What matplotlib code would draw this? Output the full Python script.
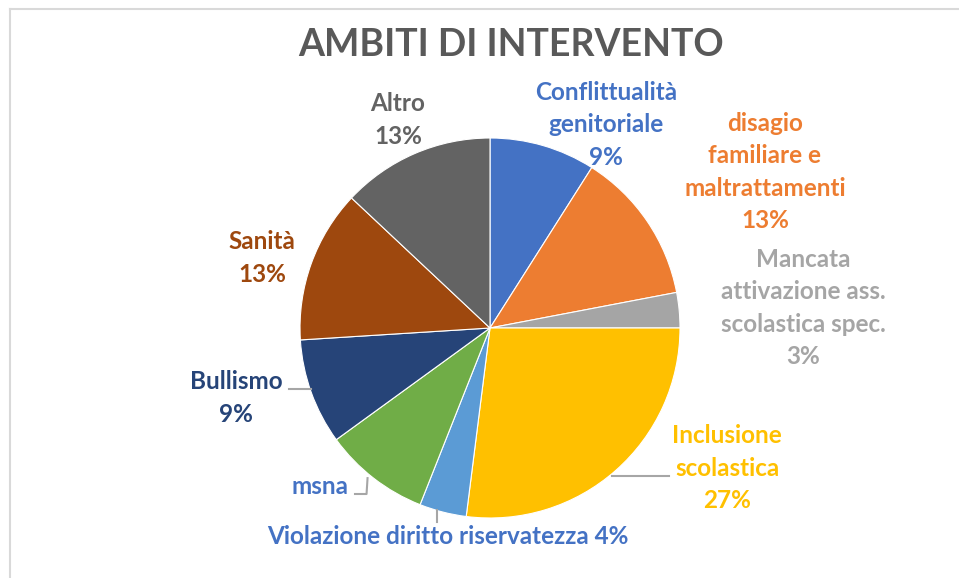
import matplotlib.pyplot as plt
import numpy as np

# data
categories = ["Conflittualità\ngenitoriale", "disagio\nfamiliare e\nmaltrattamenti",
              "Mancata\nattivazione ass.\nscolastica spec.", "Inclusione\nscolastica",
              "Violazione diritto riservatezza", "msna", "Bullismo", "Sanità", "Altro"]
values = [9, 13, 3, 27, 4, 9, 9, 13, 13]
colors = ["#4472C4", "#ED7D31", "#A5A5A5", "#FFC000", "#5B9BD5",
          "#70AD47", "#264478", "#9E480E", "#636363"]
label_colors = ["#4472C4", "#ED7D31", "#A5A5A5", "#FFC000", "#4472C4",
                "#4472C4", "#264478", "#9E480E", "#636363"]
# label centres in pixels (x, y from top)
label_pos = [(606, 125), (765, 172), (803, 308), (727, 468), (448, 537),
             (320, 487), (236, 398), (262, 258), (398, 120)]
leader = [False, False, False, True, True, True, True, False, False]

W, H = 959, 578
fig = plt.figure(figsize=(W / 100, H / 100), dpi=100)
ax = fig.add_axes([0, 0, 1, 1])

cx, cy, r = 490, H - 328, 190
wedges, _ = ax.pie(values, colors=colors, startangle=90, counterclock=False,
                   center=(cx, cy), radius=r, frame=True,
                   wedgeprops=dict(edgecolor="white", linewidth=0.8))
ax.set_xlim(0, W)
ax.set_ylim(0, H)
ax.set_aspect("equal")
ax.axis("off")

total = sum(values)
font = "Lato"
for i, (lab, v) in enumerate(zip(categories, values)):
    pct = round(100 * v / total)
    sep = " " if "\n" not in lab and len(lab) > 10 else "\n"
    if lab == "msna":
        txt = lab
    else:
        txt = f"{lab}{sep}{pct}%"
    lx, ly = label_pos[i]
    ax.text(lx, H - ly, txt, ha="center", va="center", fontsize=17.5,
            fontweight="bold", family=font, color=label_colors[i],
            linespacing=1.48)
    if leader[i]:
        cum = sum(values[:i]) + v / 2
        ang = np.deg2rad(360 * cum / total)
        ex = cx + r * np.sin(ang)
        ey = cy + r * np.cos(ang)
        if lab.startswith("Inclusione"):
            pts = [(ex - 4, ey - 5), (669, ey - 5)]
        elif lab == "msna":
            pts = [(ex - 6, ey), (ex - 7, H - 494), (355, H - 494)]
        elif lab == "Bullismo":
            pts = [(ex, ey + 3), (289, ey + 3)]
        else:
            pts = [(ex - 6, ey + 2), (ex - 6, H - 522)]
        xs, ys = zip(*pts)
        ax.plot(xs, ys, color="#A6A6A6", lw=1.5)

ax.text(511, H - 45, "AMBITI DI INTERVENTO", ha="center", va="center",
        fontsize=27, fontweight="bold", family=font, color="#595959")

# chart frame (left and top edges visible)
fig.add_artist(plt.Line2D([9.5 / W, 9.5 / W], [0, 1 - 8.5 / H],
                          transform=fig.transFigure, color="#D9D9D9", lw=1.5))
fig.add_artist(plt.Line2D([9.5 / W, 1], [1 - 8.5 / H, 1 - 8.5 / H],
                          transform=fig.transFigure, color="#D9D9D9", lw=1.5))

fig.savefig("out.png", dpi=100, facecolor="white")
